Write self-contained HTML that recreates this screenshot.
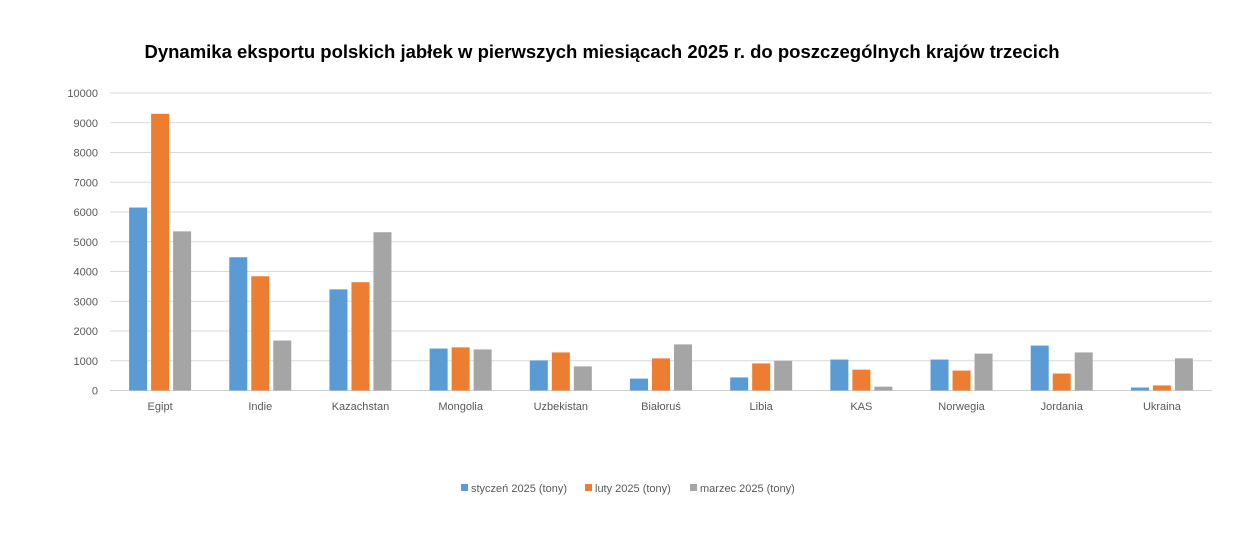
<!DOCTYPE html>
<html><head><meta charset="utf-8"><style>
body{margin:0;background:#fff;font-family:"Liberation Sans",sans-serif}
svg text{font-family:"Liberation Sans",sans-serif}
</style></head><body>
<svg width="1244" height="555" xmlns="http://www.w3.org/2000/svg">
<rect width="1244" height="555" fill="#fff"/>
<text x="602" y="58" text-anchor="middle" font-size="18.5" font-weight="bold" fill="#000">Dynamika eksportu polskich jabłek w pierwszych miesiącach 2025 r. do poszczególnych krajów trzecich</text>
<g id="grid"></g><g id="bars"></g><g id="labels"></g>
<g id="legend"></g>
</svg>
<script>
const categories=["Egipt","Indie","Kazachstan","Mongolia","Uzbekistan","Białoruś","Libia","KAS","Norwegia","Jordania","Ukraina"];
const styczen=[6150,4480,3400,1410,1010,400,440,1040,1040,1510,100];
const luty=[9300,3840,3640,1450,1280,1080,910,700,670,570,170];
const marzec=[5350,1680,5320,1380,810,1550,1000,130,1240,1280,1080];
const yTicks=[0,1000,2000,3000,4000,5000,6000,7000,8000,9000,10000];
const seriesNames=["styczeń 2025 (tony)","luty 2025 (tony)","marzec 2025 (tony)"];
const colors=["#5b9bd5","#ed7d31","#a5a5a5"];
const NS="http://www.w3.org/2000/svg";
const L=110,R=1212,Y0=390.5,Y1=93;
const y=v=>Y0-(v/10000)*(Y0-Y1);
const bw=(R-L)/categories.length;
const xc=i=>L+bw*(i+0.5);
function mk(t,a,p){const e=document.createElementNS(NS,t);for(const k in a)e.setAttribute(k,a[k]);p.appendChild(e);return e;}
const grid=document.getElementById('grid'),bars=document.getElementById('bars'),labels=document.getElementById('labels'),legend=document.getElementById('legend');
yTicks.forEach(t=>{
 const l=mk('line',{x1:L,x2:R,y1:y(t),y2:y(t),stroke:t===0?'#d0d0d0':'#d9d9d9','stroke-width':1},grid);
 
 
 const tx=mk('text',{x:98,y:y(t)+4,'text-anchor':'end','font-size':11,fill:'#595959'},labels);
 tx.textContent=t;
 
 
});
const series=[styczen,luty,marzec];
const barW=18,gap=4;
categories.forEach((c,i)=>{
 series.forEach((s,j)=>{
  const x=xc(i)+(j-1)*(barW+gap)-barW/2;
  const r=mk('rect',{x:x,y:y(s[i]),width:barW,height:Y0-y(s[i]),fill:colors[j]},bars);
  
  
 });
 const t=mk('text',{x:xc(i),y:410,'text-anchor':'middle','font-size':11,fill:'#595959'},labels);
 t.textContent=c;
 
 
});
const lx=[461,585,690];
seriesNames.forEach((n,j)=>{
 const r=mk('rect',{x:lx[j],y:484,width:7,height:7,fill:colors[j]},legend);
 
 
 const t=mk('text',{x:lx[j]+10,y:492,'font-size':11,fill:'#595959'},legend);
 t.textContent=n;
 
 
});
</script>
</body></html>
